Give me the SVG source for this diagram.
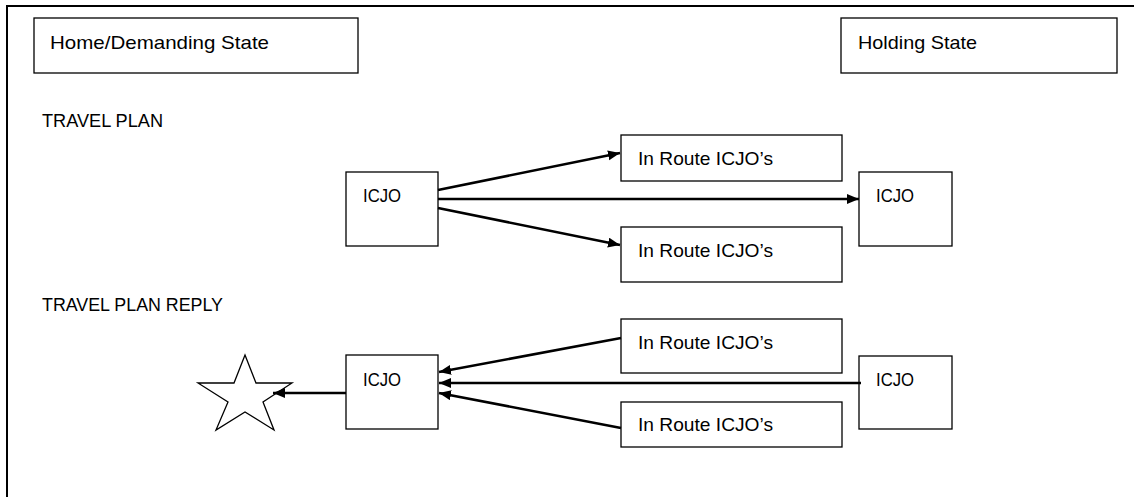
<svg xmlns="http://www.w3.org/2000/svg" width="1134" height="497" viewBox="0 0 1134 497">
  <style>
    .box { fill: #ffffff; stroke: #000000; stroke-width: 1.3; }
    .lbl { font-family: "Liberation Sans", Arial, sans-serif; font-size: 19px; fill: #000000; }
    .arrow { fill: none; stroke: #000000; stroke-width: 2.6; }
    .frame { fill: none; stroke: #000000; stroke-width: 2; }
  </style>
  <defs>
    <marker id="head" markerUnits="userSpaceOnUse" markerWidth="13" markerHeight="11" refX="12" refY="5" orient="auto">
      <path d="M0,0 L12,5 L0,10 Z" fill="#000000"/>
    </marker>
  </defs>

  <rect width="1134" height="497" fill="#ffffff"/>

  <!-- page frame: top and left edges only -->
  <path class="frame" d="M7,497 L7,6 L1134,6"/>

  <g id="home-state">
    <rect class="box" x="34" y="18" width="324" height="55"/>
    <text class="lbl" x="50" y="49" textLength="219" lengthAdjust="spacingAndGlyphs">Home/Demanding State</text>
  </g>
  <g id="holding-state">
    <rect class="box" x="841" y="18" width="276" height="55"/>
    <text class="lbl" x="858" y="49" textLength="119" lengthAdjust="spacingAndGlyphs">Holding State</text>
  </g>

  <g id="travel-plan-title">
    <text class="lbl" x="42" y="127" textLength="121" lengthAdjust="spacingAndGlyphs">TRAVEL PLAN</text>
  </g>

  <!-- travel plan -->
  <g id="plan-icjo-home">
    <rect class="box" x="346" y="172" width="92" height="74"/>
    <text class="lbl" x="363" y="202" textLength="38" lengthAdjust="spacingAndGlyphs">ICJO</text>
  </g>
  <g id="plan-enroute-top">
    <rect class="box" x="621" y="135" width="221" height="46"/>
    <text class="lbl" x="638" y="165" textLength="135" lengthAdjust="spacingAndGlyphs">In Route ICJO’s</text>
  </g>
  <g id="plan-enroute-bottom">
    <rect class="box" x="621" y="227" width="221" height="55"/>
    <text class="lbl" x="638" y="257" textLength="135" lengthAdjust="spacingAndGlyphs">In Route ICJO’s</text>
  </g>
  <g id="plan-icjo-holding">
    <rect class="box" x="859" y="172" width="93" height="74"/>
    <text class="lbl" x="876" y="202" textLength="38" lengthAdjust="spacingAndGlyphs">ICJO</text>
  </g>

  <g id="reply-title">
    <text class="lbl" x="42" y="311" textLength="181" lengthAdjust="spacingAndGlyphs">TRAVEL PLAN REPLY</text>
  </g>

  <!-- travel plan reply -->
  <g id="reply-star">
    <polygon points="245,355 256,383 292,383 263,402 274,430 245,412 216,430 228,402 198,383 234,383" fill="#ffffff" stroke="#000000" stroke-width="1.3" stroke-linejoin="miter"/>
  </g>
  <g id="reply-icjo-home">
    <rect class="box" x="346" y="355" width="92" height="74"/>
    <text class="lbl" x="363" y="386" textLength="38" lengthAdjust="spacingAndGlyphs">ICJO</text>
  </g>
  <g id="reply-enroute-top">
    <rect class="box" x="621" y="319" width="221" height="54"/>
    <text class="lbl" x="638" y="349" textLength="135" lengthAdjust="spacingAndGlyphs">In Route ICJO’s</text>
  </g>
  <g id="reply-enroute-bottom">
    <rect class="box" x="621" y="402" width="221" height="45"/>
    <text class="lbl" x="638" y="431" textLength="135" lengthAdjust="spacingAndGlyphs">In Route ICJO’s</text>
  </g>
  <g id="reply-icjo-holding">
    <rect class="box" x="859" y="356" width="93" height="73"/>
    <text class="lbl" x="876" y="386" textLength="38" lengthAdjust="spacingAndGlyphs">ICJO</text>
  </g>

  <g id="connectors">
    <line class="arrow" x1="438" y1="190" x2="620" y2="153" marker-end="url(#head)"/>
    <line class="arrow" x1="438" y1="199" x2="859" y2="199" marker-end="url(#head)"/>
    <line class="arrow" x1="438" y1="208" x2="620" y2="245" marker-end="url(#head)"/>

    <line class="arrow" x1="621" y1="338" x2="439" y2="372" marker-end="url(#head)"/>
    <line class="arrow" x1="861" y1="383" x2="439" y2="383" marker-end="url(#head)"/>
    <line class="arrow" x1="621" y1="428" x2="439" y2="393" marker-end="url(#head)"/>

    <line class="arrow" x1="346" y1="393" x2="273" y2="393" marker-end="url(#head)"/>
  </g>
</svg>
